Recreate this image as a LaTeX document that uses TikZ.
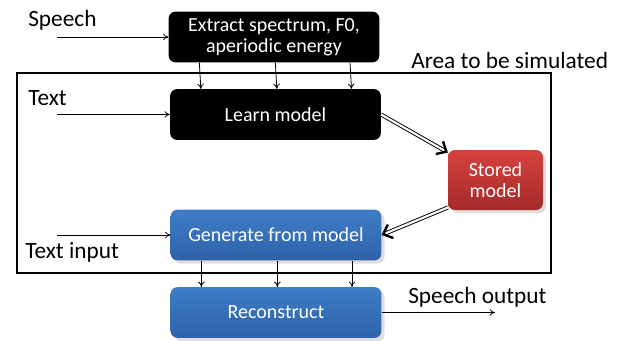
\documentclass[tikz,border=0pt]{standalone}
\usepackage{fontspec}
\setmainfont{Carlito}
\usetikzlibrary{arrows.meta,shadows}

\definecolor{boxblue}{RGB}{62,125,198}
\definecolor{boxbluedark}{RGB}{46,98,170}
\definecolor{boxred}{RGB}{214,66,62}
\definecolor{boxreddark}{RGB}{164,42,42}

\begin{document}
\begin{tikzpicture}
          [x=0.75pt,y=-0.75pt,
           box/.style={rectangle, rounded corners=5pt, text centered, align=center, text=white,
                       minimum width=158pt, minimum height=38pt, font=\fontsize{15}{16}\selectfont},
           blackbox/.style={box, fill=black},
           bluebox/.style={box, top color=boxblue, bottom color=boxbluedark, drop shadow={opacity=0.25}},
           redbox/.style={box, top color=boxred, bottom color=boxreddark, drop shadow={opacity=0.25},
                       minimum width=71pt, minimum height=45pt},
           label/.style={font=\fontsize{17.5}{19}\selectfont, anchor=west, inner sep=0pt},
           flow/.style={-{To[length=4pt,width=5pt]}, line width=0.6pt},
           model/.style={double, double distance=1.6pt, line width=0.7pt,
                         -{Straight Barb[length=6pt,width=11pt,line width=1.8pt]}}]
        \useasboundingbox (0,0) rectangle (619,340);
          % outer frame
          \draw[line width=0.9pt] (17,73) rectangle (551,273);
          \node [label] (areatext) at (411,60) {Area to be simulated};

          % boxes
          \node [blackbox] (extract) at (274,37) {Extract spectrum, F0,\\aperiodic energy};
          \node [blackbox] (learn) at (275.5,114.5) {Learn model};
          \node [redbox] (stored) at (495.5,180) {Stored\\model};
          \node [bluebox] (generate) at (276,235) {Generate from model};
          \node [bluebox] (reconstruct) at (276,312.5) {Reconstruct};

          % inputs and outputs
          \node [label] (speech) at (28,20) {Speech};
          \node [label] (text) at (28,98) {Text};
          \node [label] (textinput) at (25,252) {Text input};
          \node [label] (speechout) at (408,297) {Speech output};
          \coordinate (speechin) at (57,37);
          \coordinate (textin) at (57,114.5);
          \coordinate (genin) at (57,235);
          \coordinate (outend) at (495,312.5);

          \draw [flow] (speechin) -- (extract.west);
          \draw [flow] (textin) -- (learn.west);
          \draw [flow] (genin) -- (generate.west);
          \draw [flow] (reconstruct.east) -- (outend);

          % parameter streams
          \foreach \dx in {-56,1,57} {
            \draw [flow] ([xshift=\dx pt]extract.south) -- ([xshift=\dx pt]learn.north);
            \draw [flow] ([xshift=\dx pt]generate.south) -- ([xshift=\dx pt]reconstruct.north);
          }

          % model store
          \draw [model] (learn.east) -- (stored.150);
          \draw [model] (stored.210) -- (generate.east);
        \end{tikzpicture}
\end{document}
